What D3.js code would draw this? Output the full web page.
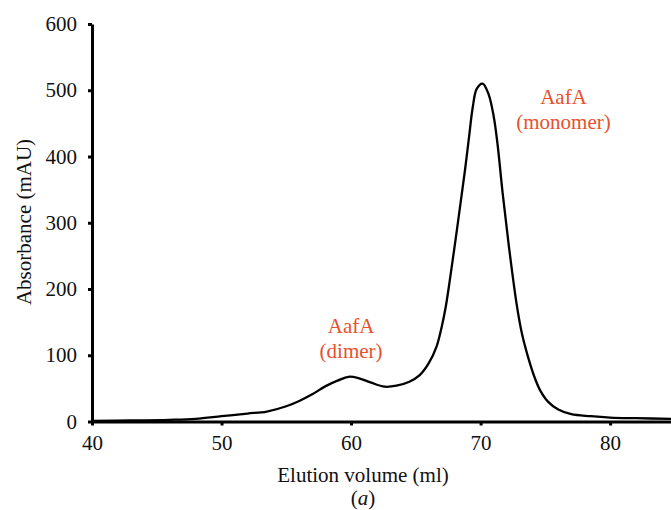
<!DOCTYPE html>
<html>
<head>
<meta charset="utf-8">
<script src="https://cdn.jsdelivr.net/npm/d3@7"></script>
<style>
  body { margin: 0; background: #fff; }
  svg { display: block; font-family: "Liberation Serif", "Times New Roman", serif; }
</style>
</head>
<body>
<div id="chart"></div>
<script>
// elution profile
const elution = [40, 43, 46, 48, 50, 52, 53.5, 55, 56, 57, 58, 59, 59.8, 60.5, 61.5, 62.6, 63.5, 64.5, 65.3, 66, 66.6, 67, 67.3, 67.6, 67.95, 68.4, 68.8, 69.1, 69.4, 69.7, 70.15, 70.6, 71, 71.3, 71.7, 72.2, 72.8, 73.2, 73.7, 74.2, 74.6, 75.2, 76, 77, 78.5, 80, 82, 84.7];
const absorbance = [1, 1.5, 2.5, 4, 8, 12, 15, 23, 31, 41, 53, 62, 67.5, 66, 59, 52.5, 54, 60, 70, 88, 113, 143, 172, 210, 258, 322, 380, 428, 475, 502, 510, 495, 462, 420, 345, 262, 175, 132, 95, 65, 47, 30, 18, 11, 8, 6, 5, 4];
const xTicks = [40, 50, 60, 70, 80];
const yTicks = [0, 100, 200, 300, 400, 500, 600];
const peakLabels = [
  { x: 60.0, y: 133, lines: ["AafA", "(dimer)"] },
  { x: 76.4, y: 480, lines: ["AafA", "(monomer)"] }
];

const width = 671, height = 510;
const margin = { top: 24, left: 92, right: 0, bottom: 88.5 };

const svg = d3.select("#chart").append("svg")
  .attr("width", width)
  .attr("height", height);

const x = d3.scaleLinear().domain([40, 84.7]).range([margin.left, width - margin.right]);
const y = d3.scaleLinear().domain([0, 600]).range([height - margin.bottom, margin.top]);

// y axis
const yAxis = svg.append("g")
  .attr("transform", `translate(${margin.left},0)`)
  .call(d3.axisLeft(y).tickValues(yTicks).tickSize(4).tickSizeOuter(0).tickPadding(11))
  .attr("font-family", null)
  .attr("font-size", 21);
yAxis.select(".domain").attr("stroke-width", 3);
yAxis.selectAll(".tick line").attr("stroke-width", 3);
yAxis.selectAll(".tick text").attr("fill", "#111");

// x axis
const xAxis = svg.append("g")
  .attr("transform", `translate(0,${y(0)})`)
  .call(d3.axisBottom(x).tickValues(xTicks).tickSize(4).tickSizeOuter(0).tickPadding(10))
  .attr("font-family", null)
  .attr("font-size", 21);
xAxis.select(".domain").attr("stroke-width", 3);
xAxis.selectAll(".tick line").attr("stroke-width", 3);
xAxis.selectAll(".tick text").attr("fill", "#111");

// trace
const line = d3.line()
  .x((d, i) => x(elution[i]))
  .y(d => y(d))
  .curve(d3.curveCatmullRom.alpha(0.5));

svg.append("path")
  .datum(absorbance)
  .attr("fill", "none")
  .attr("stroke", "#000")
  .attr("stroke-width", 2.3)
  .attr("stroke-linejoin", "round")
  .attr("d", line);

// peak labels
peakLabels.forEach(p => {
  p.lines.forEach((t, i) => {
    svg.append("text")
      .attr("x", x(p.x))
      .attr("y", y(p.y) + i * 25)
      .attr("text-anchor", "middle")
      .attr("font-size", 21)
      .attr("fill", "#e8502d")
      .text(t);
  });
});

// axis titles
svg.append("text")
  .attr("x", 363)
  .attr("y", 482)
  .attr("text-anchor", "middle")
  .attr("font-size", 21)
  .attr("fill", "#111")
  .text("Elution volume (ml)");

svg.append("text")
  .attr("x", 363)
  .attr("y", 505)
  .attr("text-anchor", "middle")
  .attr("font-size", 21)
  .attr("fill", "#111")
  .html("(<tspan font-style='italic'>a</tspan>)");

svg.append("text")
  .attr("transform", "translate(31,222) rotate(-90)")
  .attr("text-anchor", "middle")
  .attr("font-size", 21)
  .attr("fill", "#111")
  .text("Absorbance (mAU)");
</script>
</body>
</html>
